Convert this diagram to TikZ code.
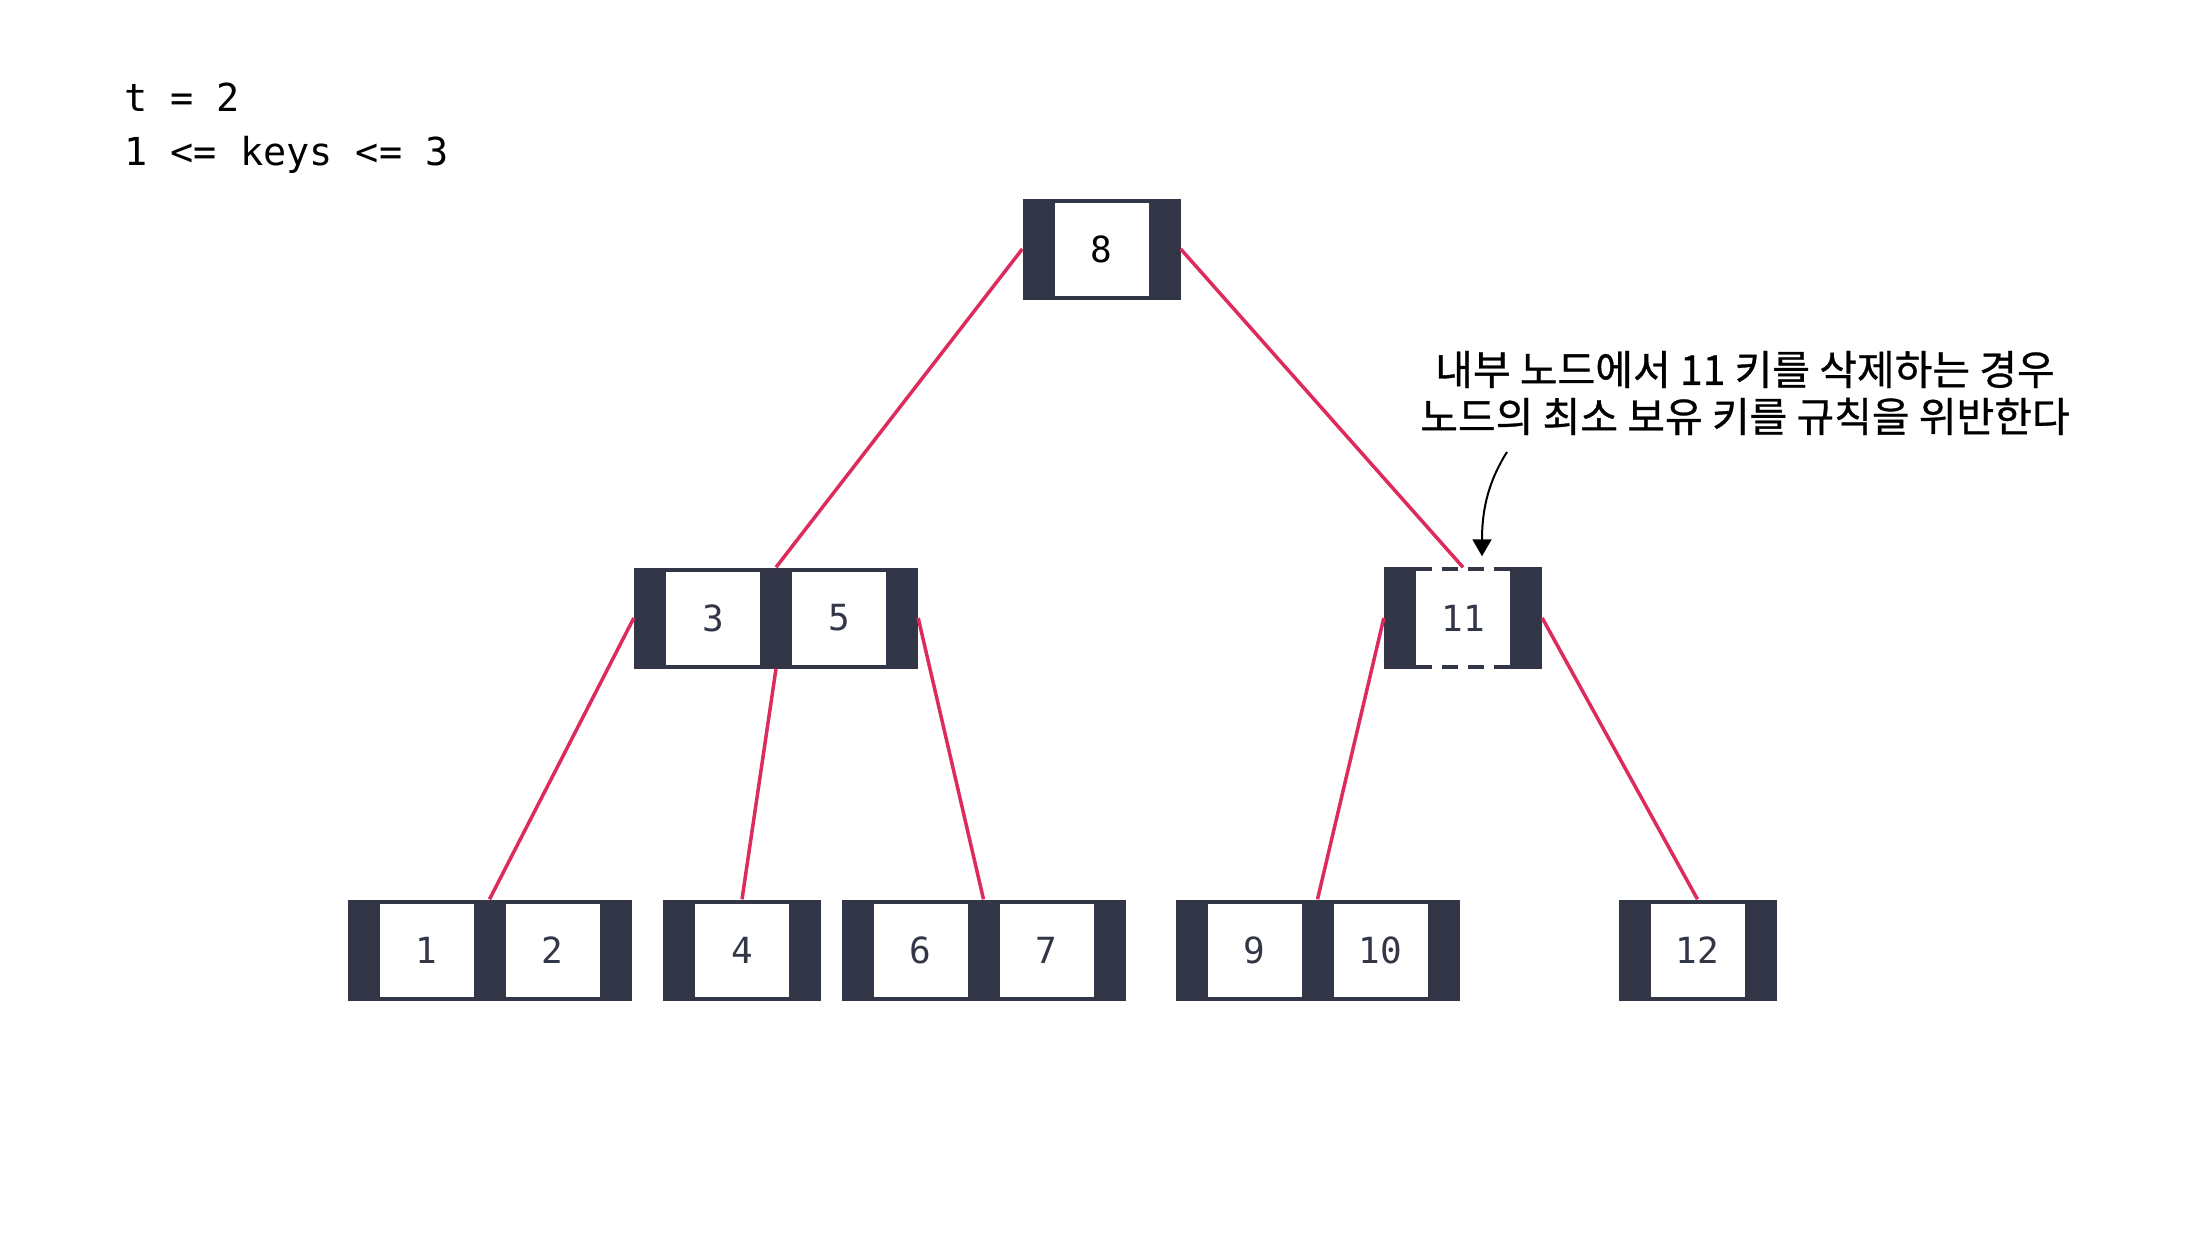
\documentclass[tikz,border=0pt]{standalone}
\usepackage{fontspec}
\usetikzlibrary{arrows.meta}
\newfontfamily\monofam{DejaVu Sans Mono}
\newfontfamily\kofont[FakeBold=0.8]{Noto Sans CJK KR}
\definecolor{slate}{HTML}{333647}
\definecolor{crim}{HTML}{DC2B5C}
\tikzset{
  bnode/.style={fill=slate, draw=none, minimum height=101pt, inner sep=0pt},
  onekey/.style={bnode, minimum width=158pt},
  twokey/.style={bnode, minimum width=284pt},
  keycell/.style={fill=white, draw=none, minimum width=94pt, minimum height=93pt, inner sep=0pt,
    font=\monofam\fontsize{36}{40}\selectfont, text=slate},
  link/.style={draw=crim, line width=3.5pt},
  dashcell/.style={draw=slate, line width=4pt, dash pattern=on 16pt off 10pt},
}
\begin{document}
\begin{tikzpicture}[x=1pt,y=-1pt]
\useasboundingbox (0,0) rectangle (2196,1234);

% info text
\node[anchor=base west, inner sep=0pt, font=\monofam\fontsize{38.5}{44}\selectfont] (t1) at (124,111) {t = 2};
\node[anchor=base west, inner sep=0pt, font=\monofam\fontsize{38.5}{44}\selectfont] (t2) at (124,165) {1 <= keys <= 3};

% root
\node[onekey] (root) at (1101.5,249) {};
\node[keycell, text=black] (k8) at (root) {8};

% level 2
\node[twokey] (n35) at (776,618) {};
\node[keycell, xshift=-63pt] (k3) at (n35) {3};
\node[keycell, xshift=63pt] (k5) at (n35) {5};

\node[bnode, fill=none, minimum width=158pt] (n11) at (1463,618) {};
\fill[slate] (n11.north west) rectangle ([xshift=32pt]n11.south west);
\fill[slate] (n11.north east) rectangle ([xshift=-32pt]n11.south east);
\node[keycell, minimum height=101pt] (k11) at (n11) {11};
\draw[dashcell] ([yshift=-2pt]k11.north west) -- ([yshift=-2pt]k11.north east);
\draw[dashcell] ([yshift=2pt]k11.south west) -- ([yshift=2pt]k11.south east);

% leaves
\node[twokey] (n12) at (489.5,950) {};
\node[keycell, xshift=-63pt] (k1) at (n12) {1};
\node[keycell, xshift=63pt] (k2) at (n12) {2};

\node[onekey] (n4) at (742,950) {};
\node[keycell] (k4) at (n4) {4};

\node[twokey] (n67) at (983.5,950) {};
\node[keycell, xshift=-63pt] (k6) at (n67) {6};
\node[keycell, xshift=63pt] (k7) at (n67) {7};

\node[twokey] (n910) at (1317.5,950) {};
\node[keycell, xshift=-63pt] (k9) at (n910) {9};
\node[keycell, xshift=63pt] (k10) at (n910) {10};

\node[onekey] (n12b) at (1697.5,950) {};
\node[keycell] (k12) at (n12b) {12};

% connectors
\draw[link] (root.west) -- (n35.north);
\draw[link] (root.east) -- (n11.north);
\draw[link] (n35.west) -- (n12.north);
\draw[link] (n35.south) -- (n4.north);
\draw[link] (n35.east) -- (n67.north);
\draw[link] (n11.west) -- (n910.north);
\draw[link] (n11.east) -- (n12b.north);

% annotation
\node[align=center, inner sep=0pt, font=\kofont\fontsize{41}{47}\selectfont] (ann) at (1745,393)
  {내부 노드에서 11 키를 삭제하는 경우\\노드의 최소 보유 키를 규칙을 위반한다};
\coordinate (arrS) at (1507,452);
\coordinate (arrE) at ([xshift=19pt,yshift=11pt]n11.north);
\draw[line width=2pt, -{Triangle[length=17pt,width=19pt]}] (arrS) .. controls (1486,485) and (1482,515) .. (arrE);
\end{tikzpicture}
\end{document}
